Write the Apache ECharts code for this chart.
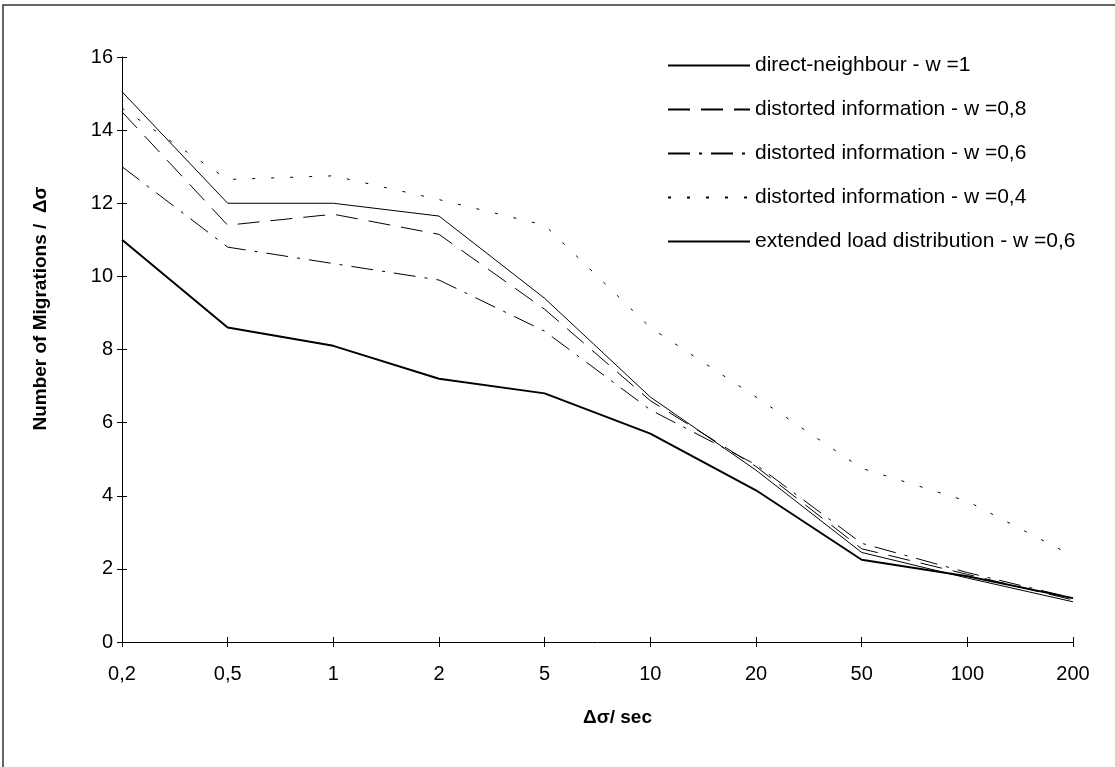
<!DOCTYPE html>
<html>
<head>
<meta charset="utf-8">
<script src="https://cdn.jsdelivr.net/npm/echarts@6/dist/echarts.min.js"></script>
<style>
  html, body { margin: 0; padding: 0; background: #fff; }
  #chart { width: 1115px; height: 767px; }
</style>
</head>
<body>
<div id="chart"></div>
<script>
const categories = ["0,2", "0,5", "1", "2", "5", "10", "20", "50", "100", "200"];
const directNeighbour = [15.05, 12.0, 12.0, 11.65, 9.4, 6.7, 4.7, 2.45, 1.75, 1.1];
const distorted08 = [14.5, 11.4, 11.7, 11.15, 9.1, 6.6, 4.8, 2.55, 1.85, 1.15];
const distorted06 = [13.0, 10.8, 10.35, 9.9, 8.5, 6.35, 4.85, 2.7, 1.9, 1.2];
const distorted04 = [14.6, 12.65, 12.75, 12.1, 11.4, 8.6, 6.7, 4.75, 3.85, 2.35];
const extended06 = [11.0, 8.6, 8.1, 7.2, 6.8, 5.7, 4.15, 2.25, 1.8, 1.2];

const font = "Liberation Sans, Arial, sans-serif";

const makeLine = (name, data, width, type) => ({
    name: name,
    type: "line",
    data: data,
    symbol: "none",
    silent: true,
    lineStyle: { color: "#000", width: width, type: type },
    itemStyle: { color: "#000" }
});

const initChart = () => {
    const myChart = echarts.init(document.getElementById("chart"));
    const option = {
        animation: false,
        backgroundColor: "#fff",
        textStyle: { fontFamily: font },
        grid: { left: 122, right: 42, top: 57, bottom: 125 },
        graphic: [{
            type: "rect",
            shape: { x: 3, y: 5, width: 1300, height: 1000 },
            style: { fill: "none", stroke: "#333", lineWidth: 1.5 },
            silent: true
        }],
        legend: {
            orient: "vertical",
            left: 662,
            top: 50,
            itemWidth: 82,
            itemHeight: 14,
            itemGap: 23,
            itemStyle: { opacity: 0 },
            textStyle: { fontFamily: font, fontSize: 21, color: "#000" }
        },
        xAxis: [{
            type: "category",
            data: categories,
            boundaryGap: false,
            name: "\u0394\u03c3/ sec",
            nameLocation: "middle",
            nameGap: 66,
            nameTextStyle: { fontFamily: font, fontSize: 19, fontWeight: "bold", color: "#000", padding: [0, 0, 0, 40] },
            axisLine: { lineStyle: { color: "#000", width: 1 } },
            axisTick: { length: 5, lineStyle: { color: "#000" } },
            axisLabel: { color: "#000", fontSize: 20, margin: 22, fontFamily: font },
            splitLine: { show: false }
        }, {
            type: "category",
            data: categories,
            boundaryGap: false,
            position: "bottom",
            axisLine: { show: false },
            axisTick: { inside: true, length: 5, lineStyle: { color: "#000" } },
            axisLabel: { show: false },
            splitLine: { show: false }
        }],
        yAxis: [{
            type: "value",
            min: 0,
            max: 16,
            interval: 2,
            name: "Number of Migrations /  \u0394\u03c3",
            nameLocation: "middle",
            nameGap: 72,
            nameTextStyle: { fontFamily: font, fontSize: 19, fontWeight: "bold", color: "#000", padding: [0, 0, 0, 82] },
            axisLine: { show: true, lineStyle: { color: "#000", width: 1 } },
            axisTick: { show: true, length: 5, lineStyle: { color: "#000" } },
            axisLabel: { color: "#000", fontSize: 20, margin: 9, fontFamily: font },
            splitLine: { show: false }
        }, {
            type: "value",
            min: 0,
            max: 16,
            interval: 2,
            position: "left",
            axisLine: { show: false },
            axisTick: { show: true, inside: true, length: 5, lineStyle: { color: "#000" } },
            axisLabel: { show: false },
            splitLine: { show: false }
        }],
        series: [
            makeLine("direct-neighbour - w =1", directNeighbour, 1, "solid"),
            makeLine("distorted information - w =0,8", distorted08, 1, [22, 11]),
            makeLine("distorted information - w =0,6", distorted06, 1, [22, 9, 3, 9]),
            makeLine("distorted information - w =0,4", distorted04, 1, [3, 16]),
            makeLine("extended load distribution - w =0,6", extended06, 2, "solid")
        ]
    };
    myChart.setOption(option);
    myChart.resize();
};

window.addEventListener("load", () => {
    initChart();
});
</script>
</body>
</html>
